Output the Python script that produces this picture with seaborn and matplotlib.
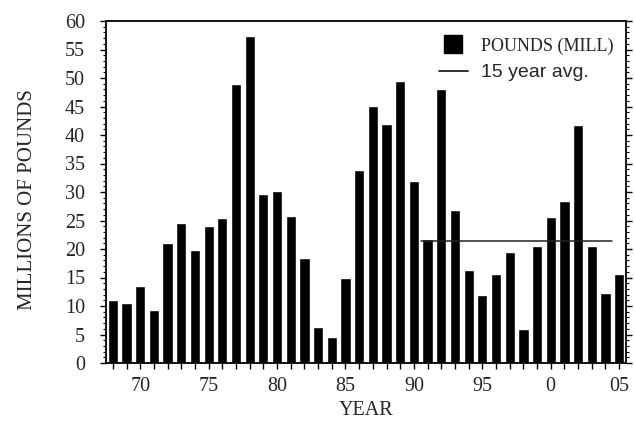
import matplotlib
matplotlib.use("Agg")
import matplotlib.pyplot as plt
import seaborn as sns
import pandas as pd
from matplotlib.lines import Line2D
from matplotlib.ticker import MultipleLocator

years = ["68", "69", "70", "71", "72", "73", "74", "75", "76", "77", "78", "79",
         "80", "81", "82", "83", "84", "85", "86", "87", "88", "89", "90", "91",
         "92", "93", "94", "95", "96", "97", "98", "99", "0", "01", "02", "03",
         "04", "05"]
pounds = [11.0, 10.5, 13.5, 9.3, 21.0, 24.5, 19.9, 24.0, 25.4, 48.9, 57.4, 29.7,
          30.2, 25.8, 18.4, 6.4, 4.5, 14.9, 33.8, 45.1, 42.0, 49.5, 32.0, 21.7,
          48.1, 26.8, 16.3, 12.0, 15.6, 19.5, 6.0, 20.5, 25.7, 28.4, 41.8, 20.5,
          12.3, 15.6]
avg_value = 21.4
avg_first_year = "91"
avg_last_year = "04"
xtick_labels = ["70", "75", "80", "85", "90", "95", "0", "05"]
yticks = [0, 5, 10, 15, 20, 25, 30, 35, 40, 45, 50, 55, 60]

df = pd.DataFrame({"year": years, "pounds": pounds})

sns.set_theme(style="white")
plt.rcParams["font.family"] = ["Liberation Serif", "DejaVu Serif"]

fig = plt.figure(figsize=(6.35, 4.26), dpi=100)
ax = fig.add_axes([106 / 635, 1 - 363 / 426, 520 / 635, 342 / 426])

sns.barplot(data=df, x="year", y="pounds", order=years, color="black",
            width=0.75, saturation=1, ax=ax, zorder=2)

x0 = years.index(avg_first_year) - 0.5
x1 = years.index(avg_last_year) + 0.5
ax.plot([x0, x1], [avg_value, avg_value], color="#222222", lw=1.1, zorder=3)

ax.set_xlim(-0.5, len(years) - 0.5)
ax.set_ylim(0, 60)
ax.set_yticks(yticks)
ax.yaxis.set_minor_locator(MultipleLocator(1))
ax.set_xticks(range(len(years)))
ax.set_xticklabels([y if y in xtick_labels else "" for y in years])

ax.tick_params(axis="y", which="major", left=True, right=True, direction="out",
               length=4, width=1, labelsize=14.5, pad=11, color="black")
ax.tick_params(axis="y", which="minor", left=True, right=True, direction="out",
               length=2.5, width=0.8, color="black")
ax.tick_params(axis="x", which="major", bottom=True, direction="out", length=4,
               width=1, labelsize=14.5, pad=6, color="black")

for s in ax.spines.values():
    s.set_visible(True)
    s.set_color("black")
    s.set_linewidth(1.3)

ax.set_xlabel("YEAR", fontsize=14.5, labelpad=4)
ax.set_ylabel("MILLIONS OF POUNDS", fontsize=15, labelpad=20)
ax.yaxis.label.set_y(0.477)

handles = [
    Line2D([], [], marker="s", markersize=13, color="black", linestyle="none"),
    Line2D([], [], color="#222222", lw=1.3),
]
leg = ax.legend(handles, ["POUNDS (MILL)", "15 year avg."], loc="upper right",
                bbox_to_anchor=(1.008, 1.0), frameon=False, fontsize=13,
                handlelength=1.6, handletextpad=0.75, labelspacing=0.55,
                borderaxespad=0.5)
t2 = leg.get_texts()[1]
t2.set_fontfamily(["Liberation Sans", "DejaVu Sans"])
t2.set_fontsize(14)

fig.savefig("out.png", dpi=100)
